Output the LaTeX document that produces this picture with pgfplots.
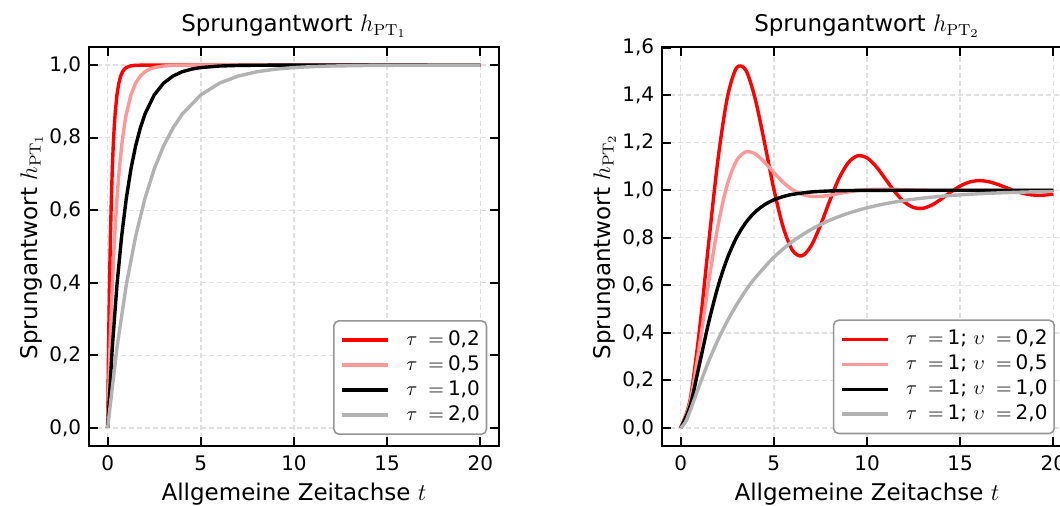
\documentclass[border=0pt]{standalone}
\usepackage[no-math]{fontspec}
\setmainfont{DejaVu Sans}
\usepackage{pgfplots}
\pgfplotsset{compat=1.18}

\definecolor{cred}{RGB}{255,0,0}
\definecolor{cpink}{RGB}{255,153,153}
\definecolor{cgray}{RGB}{178,178,178}
\definecolor{gridgray}{RGB}{224,224,224}
\definecolor{legendgray}{RGB}{150,150,150}

\pgfplotsset{
  every axis title shift=0pt,
  sprung/.style={
    scale only axis,
    width=205pt, height=199.5pt,
    anchor=south west,
    xmin=-1, xmax=21,
    xtick={0,5,10,15,20},
    xticklabels={0,5,10,15,20},
    tick align=inside,
    tick pos=both,
    xticklabel pos=lower, yticklabel pos=left,
    major tick length=4.5pt,
    tick style={black, line width=1.1pt},
    axis line style={line width=1.2pt},
    grid=major,
    major grid style={gridgray, line width=0.7pt, dash pattern=on 2.6pt off 1.4pt},
    tick label style={font=\fontsize{10}{12}\selectfont, inner sep=0pt},
    xticklabel style={anchor=base, yshift=-12.5pt},
    yticklabel style={anchor=east, xshift=-3.75pt},
    label style={font=\fontsize{11.5}{14}\selectfont, inner sep=0pt},
    xlabel style={at={(axis description cs:0.5,-0.137)}, anchor=base},
    ylabel style={at={(axis description cs:-0.1268,0.5)}, anchor=base},
    title style={at={(axis description cs:0.5,1.0376)}, anchor=base,
      font=\fontsize{11.5}{14}\selectfont, inner sep=0pt},
    every axis plot/.append style={line width=1.7pt, line join=round},
    legend style={
      font=\fontsize{10}{12}\selectfont,
      draw=legendgray, line width=0.8pt, rounded corners=2.5pt,
      fill=white,
      inner xsep=3.35pt, inner ysep=4.8pt,
      anchor=south east,
      nodes={inner sep=0pt, text height=7.5pt, text depth=2.2pt},
      row sep=2.75pt,
      /tikz/every odd column/.append style={column sep=8.15pt},
    },
    legend cell align=left,
    legend image code/.code={\draw[#1] (0pt,0pt) -- (23pt,0pt);},
  },
}

\begin{document}
\begin{tikzpicture}
\useasboundingbox (0,0) rectangle (530pt,253pt);

\begin{axis}[sprung, at={(44.5pt,30pt)},
  ymin=-0.05, ymax=1.05,
  ytick={0,0.2,0.4,0.6,0.8,1.0},
  yticklabels={{0,0},{0,2},{0,4},{0,6},{0,8},{1,0}},
  title={Sprungantwort $h_{\mathrm{PT}_1}$},
  xlabel={Allgemeine Zeitachse $t$},
  ylabel={Sprungantwort $h_{\mathrm{PT}_1}$},
  legend style={at={(axis description cs:0.9715,0.0276)}},
]
% tau = 0,2
\addplot[cred] coordinates {
  (0,0) (0.05,0.2212) (0.1,0.3935) (0.15,0.5276) (0.2,0.6321) (0.25,0.7135)
  (0.3,0.7769) (0.35,0.8262) (0.4,0.8647) (0.5,0.9179) (0.6,0.9502) (0.7,0.9698)
  (0.8,0.9817) (0.9,0.9889) (1.0,0.9933) (1.2,0.9975) (1.4,0.9991) (1.6,0.9997)
  (2,1.0) (20,1.0)
};
\addlegendentry{$\tau\mkern5mu=$\hspace{2pt}0,2}
% tau = 0,5
\addplot[cpink] coordinates {
  (0,0) (0.125,0.2212) (0.25,0.3935) (0.375,0.5276) (0.5,0.6321) (0.625,0.7135)
  (0.75,0.7769) (0.875,0.8262) (1,0.8647) (1.25,0.9179) (1.5,0.9502) (1.75,0.9698)
  (2,0.9817) (2.25,0.9889) (2.5,0.9933) (3,0.9975) (3.5,0.9991) (4,0.9997)
  (5,1.0) (20,1.0)
};
\addlegendentry{$\tau\mkern5mu=$\hspace{2pt}0,5}
% tau = 1,0
\addplot[black] coordinates {
  (0,0) (0.25,0.2212) (0.5,0.3935) (0.75,0.5276) (1,0.6321) (1.25,0.7135)
  (1.5,0.7769) (1.75,0.8262) (2,0.8647) (2.5,0.9179) (3,0.9502) (3.5,0.9698)
  (4,0.9817) (4.5,0.9889) (5,0.9933) (6,0.9975) (7,0.9991) (8,0.9997)
  (10,1.0) (20,1.0)
};
\addlegendentry{$\tau\mkern5mu=$\hspace{2pt}1,0}
% tau = 2,0
\addplot[cgray] coordinates {
  (0,0) (0.5,0.2212) (1,0.3935) (1.5,0.5276) (2,0.6321) (2.5,0.7135)
  (3,0.7769) (3.5,0.8262) (4,0.8647) (5,0.9179) (6,0.9502) (7,0.9698)
  (8,0.9817) (9,0.9889) (10,0.9933) (11,0.9959) (12,0.9975) (14,0.9991)
  (16,0.9997) (20,1.0)
};
\addlegendentry{$\tau\mkern5mu=$\hspace{2pt}2,0}
\end{axis}

\begin{axis}[sprung, at={(331pt,30pt)},
  ymin=-0.0763, ymax=1.6029,
  ytick={0,0.2,0.4,0.6,0.8,1.0,1.2,1.4,1.6},
  yticklabels={{0,0},{0,2},{0,4},{0,6},{0,8},{1,0},{1,2},{1,4},{1,6}},
  title={Sprungantwort $h_{\mathrm{PT}_2}$},
  xlabel={Allgemeine Zeitachse $t$},
  ylabel={Sprungantwort $h_{\mathrm{PT}_2}$},
  legend style={at={(axis description cs:0.9585,0.0293)}},
]
% nu = 0,2
\addplot[cred, smooth] coordinates {
  (0,0) (0.5,0.1147) (1,0.4050) (1.5,0.7748) (2,1.1275) (2.5,1.3880)
  (3,1.5151) (3.5,1.5049) (4,1.3845) (4.5,1.2006) (5,1.0055) (5.5,0.8446)
  (6,0.7473) (6.5,0.7237) (7,0.7657) (7.5,0.8521) (8,0.9556) (8.5,1.0503)
  (9,1.1166) (9.5,1.1450) (10,1.1361) (10.5,1.0986) (11,1.0460) (11.5,0.9928)
  (12,0.9508) (12.5,0.9273) (13,0.9242) (13.5,0.9385) (14,0.9639) (14.5,0.9926)
  (15,1.0178) (15.5,1.0345) (16,1.0405) (16.5,1.0364) (17,1.0250) (17.5,1.0101)
  (18,0.9957) (18.5,0.9848) (19,0.9793) (19.5,0.9794) (20,0.9840)
};
\addlegendentry{$\tau\mkern5mu=$\hspace{2pt}1; $\upsilon\mkern5mu=$\hspace{2pt}0,2}
% nu = 0,5
\addplot[cpink, smooth] coordinates {
  (0,0) (0.5,0.1044) (1,0.3403) (1.5,0.6105) (2,0.8494) (2.5,1.0234)
  (3,1.1244) (3.5,1.1616) (4,1.1531) (4.5,1.1184) (5,1.0746) (5.5,1.0336)
  (6,1.0023) (6.5,0.9828) (7,0.9744) (7.5,0.9742) (8,0.9790) (8.5,0.9860)
  (9,0.9929) (9.5,0.9985) (10,1.0022) (10.5,1.0040) (11,1.0043) (11.5,1.0037)
  (12,1.0026) (12.5,1.0014) (13,1.0004) (14,0.9994) (15,0.9994) (16,0.9997)
  (17,1.0000) (18,1.0001) (19,1.0000) (20,1.0000)
};
\addlegendentry{$\tau\mkern5mu=$\hspace{2pt}1; $\upsilon\mkern5mu=$\hspace{2pt}0,5}
% nu = 1,0
\addplot[black, smooth] coordinates {
  (0,0) (0.5,0.0902) (1,0.2642) (1.5,0.4422) (2,0.5940) (2.5,0.7127)
  (3,0.8009) (3.5,0.8641) (4,0.9084) (4.5,0.9389) (5,0.9596) (5.5,0.9734)
  (6,0.9826) (7,0.9927) (8,0.9970) (9,0.9988) (10,0.9995) (12,0.9999)
  (14,1.0) (16,1.0) (18,1.0) (20,1.0)
};
\addlegendentry{$\tau\mkern5mu=$\hspace{2pt}1; $\upsilon\mkern5mu=$\hspace{2pt}1,0}
% nu = 2,0
\addplot[cgray, smooth] coordinates {
  (0,0) (0.25,0.0228) (0.5,0.0697) (0.75,0.1235) (1,0.1777) (1.5,0.2795)
  (2,0.3696) (2.5,0.4486) (3,0.5178) (3.5,0.5793) (4,0.6311) (5,0.7178)
  (6,0.7842) (7,0.8349) (8,0.8737) (9,0.9034) (10,0.9261) (11,0.9435)
  (12,0.9568) (13,0.9669) (14,0.9747) (15,0.9806) (16,0.9852) (17,0.9887)
  (18,0.9913) (19,0.9934) (20,0.9949)
};
\addlegendentry{$\tau\mkern5mu=$\hspace{2pt}1; $\upsilon\mkern5mu=$\hspace{2pt}2,0}
\end{axis}
\end{tikzpicture}
\end{document}
